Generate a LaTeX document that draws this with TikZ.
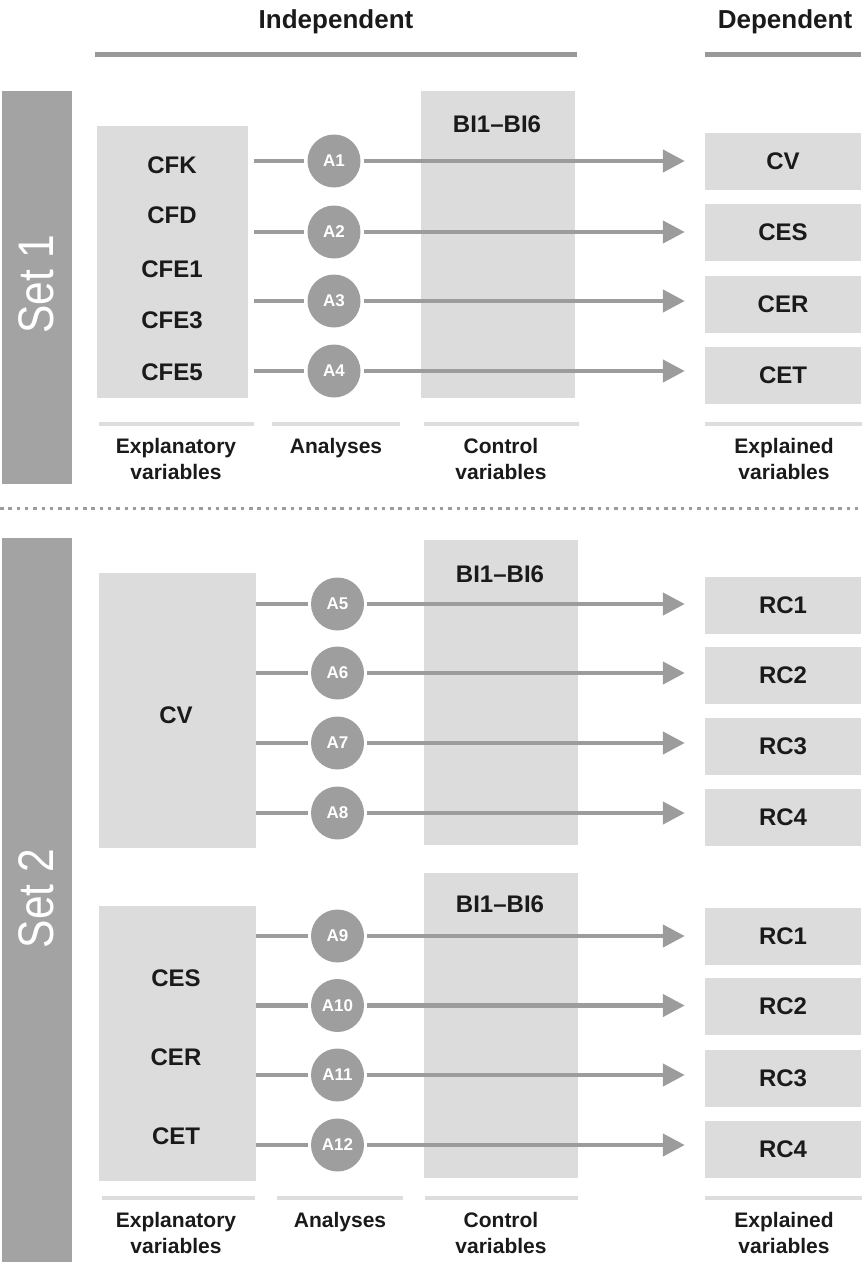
\documentclass[tikz,border=0pt]{standalone}
\usepackage{fontspec}
\setmainfont{Liberation Sans}
\usetikzlibrary{arrows.meta}

\definecolor{bardark}{HTML}{A3A3A3}
\definecolor{boxlight}{HTML}{DCDCDC}
\definecolor{conn}{HTML}{9C9C9C}
\definecolor{circfill}{HTML}{9E9E9E}
\definecolor{hdrline}{HTML}{999999}
\definecolor{lblline}{HTML}{DDDDDD}
\definecolor{ink}{HTML}{1A1A1A}

\begin{document}
\begin{tikzpicture}[x=1pt,y=-1pt,
  setbar/.style={fill=bardark, inner sep=0},
  settxt/.style={text=white, inner sep=0, rotate=90, xscale=0.85,
    font=\fontsize{50}{50}\selectfont},
  vbox/.style={fill=boxlight, inner sep=0},
  ctrlbox/.style={fill=boxlight, inner sep=0},
  vtxt/.style={text=ink, inner sep=0, font=\fontsize{24}{28}\selectfont\bfseries},
  outbox/.style={fill=boxlight, inner sep=0, minimum width=156pt,
    minimum height=57pt, text=ink, font=\fontsize{24}{28}\selectfont\bfseries},
  anl/.style={circle, fill=circfill, minimum size=53pt, inner sep=0,
    text=white, font=\fontsize{17}{20}\selectfont\bfseries},
  link/.style={draw=conn, line width=4.5pt},
  inlink/.style={link, shorten <=3pt},
  outlink/.style={link, shorten <=3pt, shorten >=20pt,
    -{Triangle[length=22pt,width=22pt]}},
  hdr/.style={text=ink, inner sep=0, font=\fontsize{26}{30}\selectfont\bfseries},
  hdrrule/.style={draw=hdrline, line width=5pt},
  lblrule/.style={draw=lblline, line width=4pt},
  lbl/.style={text=ink, inner sep=0, align=center,
    font=\fontsize{21}{26}\selectfont\bfseries},
  sep/.style={draw=conn, line width=3.5pt, dash pattern=on 3.5pt off 4.8pt}
]
\useasboundingbox (0,0) rectangle (863,1266);

% ---------- column headings ----------
\node[hdr] (indep) at (336,22) {Independent};
\node[hdr] (dep) at (785,22) {Dependent};
\draw[hdrrule] (95,54.5) -- (577,54.5);
\draw[hdrrule] (705,54.5) -- (861,54.5);

% ---------- Set 1 ----------
\node[setbar, minimum width=70pt, minimum height=393pt] (bar1) at (37,287) {};
\node[settxt] (set1) at (36,284) {Set 1};

\node[vbox, minimum width=151pt, minimum height=272pt] (e1) at (172.5,262) {};
\node[vtxt, anchor=base] (cfk)  at (172,173) {CFK};
\node[vtxt, anchor=base] (cfd)  at (172,223) {CFD};
\node[vtxt, anchor=base] (cfe1) at (172,277) {CFE1};
\node[vtxt, anchor=base] (cfe3) at (172,328) {CFE3};
\node[vtxt, anchor=base] (cfe5) at (172,380) {CFE5};

\node[ctrlbox, minimum width=154pt, minimum height=307pt] (c1) at (497.5,244.5) {};
\node[vtxt, anchor=base] (bi1) at (497,132) {BI1–BI6};

\node[outbox] (o1) at (783,161.5) {CV};
\node[outbox] (o2) at (783,232.5) {CES};
\node[outbox] (o3) at (783,304) {CER};
\node[outbox] (o4) at (783,375) {CET};

\node[anl] (a1) at (334,161) {A1};
\node[anl] (a2) at (334,232) {A2};
\node[anl] (a3) at (334,301) {A3};
\node[anl] (a4) at (334,371) {A4};

\foreach \a in {a1,a2,a3,a4}{
  \draw[inlink, shorten >=6pt] (\a) -- (\a -| e1.east);
}
\draw[outlink] (a1) -- (a1 -| o1.west);
\draw[outlink] (a2) -- (a2 -| o2.west);
\draw[outlink] (a3) -- (a3 -| o3.west);
\draw[outlink] (a4) -- (a4 -| o4.west);

\draw[lblrule] (99,424) -- (254,424);
\draw[lblrule] (272,424) -- (400,424);
\draw[lblrule] (424,424) -- (579,424);
\draw[lblrule] (705,424) -- (862,424);
\node[lbl, anchor=north] (l1a) at (176,438) {Explanatory\\variables};
\node[lbl, anchor=base]  (l1b) at (336,453) {Analyses};
\node[lbl, anchor=north] (l1c) at (501,438) {Control\\variables};
\node[lbl, anchor=north] (l1d) at (784,438) {Explained\\variables};

% ---------- divider ----------
\draw[sep] (0,508.5) -- (863,508.5);

% ---------- Set 2 ----------
\node[setbar, minimum width=70pt, minimum height=724pt] (bar2) at (37,900) {};
\node[settxt] (set2) at (36,898.5) {Set 2};

% upper group
\node[vbox, minimum width=157pt, minimum height=275pt] (e2) at (177.5,710.5) {};
\node[vtxt, anchor=base] (cv) at (176,723) {CV};

\node[ctrlbox, minimum width=154pt, minimum height=305pt] (c2) at (501,692.5) {};
\node[vtxt, anchor=base] (bi2) at (500,582) {BI1–BI6};

\node[outbox] (p1) at (783,605.5) {RC1};
\node[outbox] (p2) at (783,675) {RC2};
\node[outbox] (p3) at (783,746) {RC3};
\node[outbox] (p4) at (783,817) {RC4};

\node[anl] (a5) at (337.5,604) {A5};
\node[anl] (a6) at (337.5,673) {A6};
\node[anl] (a7) at (337.5,743) {A7};
\node[anl] (a8) at (337.5,813) {A8};

\foreach \a in {a5,a6,a7,a8}{
  \draw[inlink] (\a) -- (\a -| e2.east);
}
\draw[outlink] (a5) -- (a5 -| p1.west);
\draw[outlink] (a6) -- (a6 -| p2.west);
\draw[outlink] (a7) -- (a7 -| p3.west);
\draw[outlink] (a8) -- (a8 -| p4.west);

% lower group
\node[vbox, minimum width=157pt, minimum height=275pt] (e3) at (177.5,1043.5) {};
\node[vtxt, anchor=base] (ces) at (176,986) {CES};
\node[vtxt, anchor=base] (cer) at (176,1065) {CER};
\node[vtxt, anchor=base] (cet) at (176,1144) {CET};

\node[ctrlbox, minimum width=154pt, minimum height=305pt] (c3) at (501,1025.5) {};
\node[vtxt, anchor=base] (bi3) at (500,912) {BI1–BI6};

\node[outbox] (q1) at (783,936.5) {RC1};
\node[outbox] (q2) at (783,1006.5) {RC2};
\node[outbox] (q3) at (783,1078) {RC3};
\node[outbox] (q4) at (783,1149.5) {RC4};

\node[anl] (a9)  at (337.5,936)  {A9};
\node[anl] (a10) at (337.5,1005.5) {A10};
\node[anl] (a11) at (337.5,1075) {A11};
\node[anl] (a12) at (337.5,1145) {A12};

\foreach \a in {a9,a10,a11,a12}{
  \draw[inlink] (\a) -- (\a -| e3.east);
}
\draw[outlink] (a9)  -- (a9 -| q1.west);
\draw[outlink] (a10) -- (a10 -| q2.west);
\draw[outlink] (a11) -- (a11 -| q3.west);
\draw[outlink] (a12) -- (a12 -| q4.west);

\draw[lblrule] (102,1198) -- (255,1198);
\draw[lblrule] (277,1198) -- (403,1198);
\draw[lblrule] (425,1198) -- (578,1198);
\draw[lblrule] (705,1198) -- (862,1198);
\node[lbl, anchor=north] (l2a) at (176,1212) {Explanatory\\variables};
\node[lbl, anchor=base]  (l2b) at (340,1227) {Analyses};
\node[lbl, anchor=north] (l2c) at (501,1212) {Control\\variables};
\node[lbl, anchor=north] (l2d) at (784,1212) {Explained\\variables};
\end{tikzpicture}
\end{document}
